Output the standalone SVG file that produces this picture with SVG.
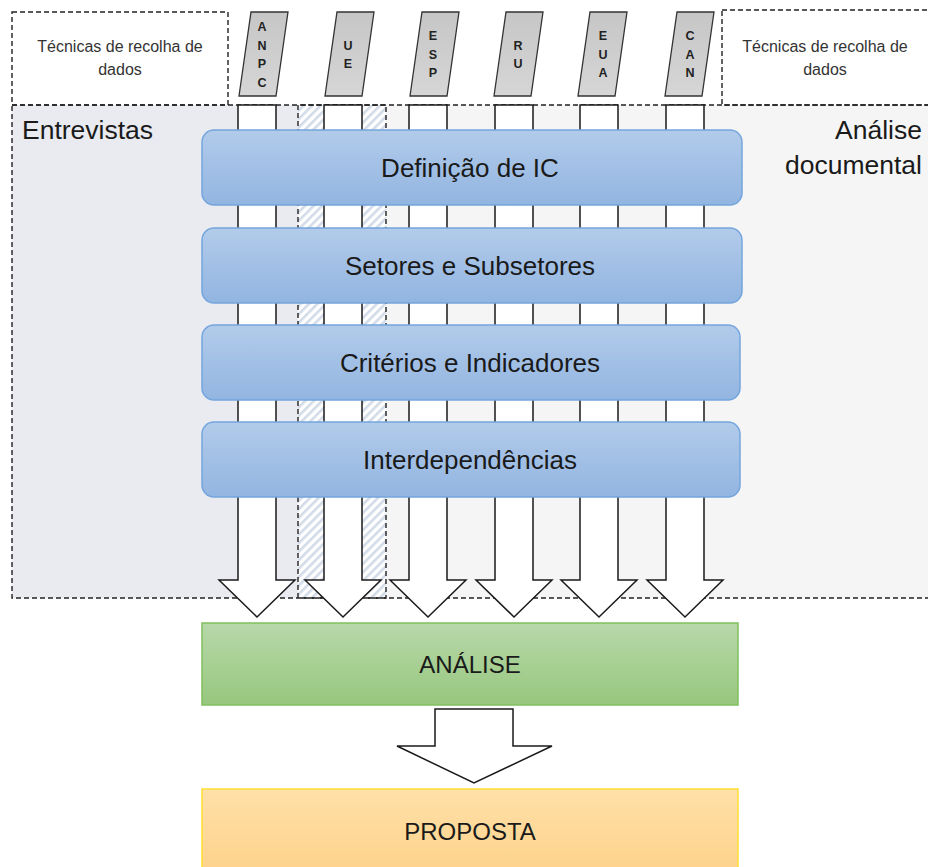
<svg xmlns="http://www.w3.org/2000/svg" width="928" height="867" viewBox="0 0 928 867">
<defs>
<linearGradient id="gBlue" x1="0" y1="0" x2="0" y2="1"><stop offset="0" stop-color="#b2cbea"/><stop offset="1" stop-color="#92b5e1"/></linearGradient>
<linearGradient id="gGreen" x1="0" y1="0" x2="0" y2="1"><stop offset="0" stop-color="#b8d8aa"/><stop offset="1" stop-color="#97c77e"/></linearGradient>
<linearGradient id="gOrange" x1="0" y1="0" x2="0" y2="1"><stop offset="0" stop-color="#ffe0a8"/><stop offset="1" stop-color="#fdd38c"/></linearGradient>
<linearGradient id="gGray" x1="0" y1="0" x2="0" y2="1"><stop offset="0" stop-color="#c6c6c6"/><stop offset="1" stop-color="#d6d6d6"/></linearGradient>
<pattern id="hatch" patternUnits="userSpaceOnUse" width="6" height="6" patternTransform="rotate(45)">
<rect width="6" height="6" fill="#ffffff"/><rect x="0" y="0" width="2.6" height="6" fill="#d2dbe7"/>
</pattern>
</defs>
<style>
.dash{fill:none;stroke:#222;stroke-width:1.4;stroke-dasharray:5 3}
.small{font-family:"Liberation Sans",Arial,sans-serif;font-size:16px;fill:#333;text-anchor:middle}
.big{font-family:"Liberation Sans",Arial,sans-serif;font-size:26.5px;fill:#1a1a1a}
.lbl{font-family:"Liberation Sans",Arial,sans-serif;font-size:26px;fill:#1a1a1a;text-anchor:middle}
.cap{font-family:"Liberation Sans",Arial,sans-serif;font-size:24px;fill:#1a1a1a;text-anchor:middle}
.tab{fill:url(#gGray);stroke:#333;stroke-width:1.3}
.tabt{font-family:"Liberation Sans",Arial,sans-serif;font-size:12.5px;font-weight:bold;fill:#222;text-anchor:middle}
.arr{fill:#fff;stroke:#1a1a1a;stroke-width:1.5;stroke-linejoin:miter}
.blue{fill:url(#gBlue);stroke:#74a5dc;stroke-width:1.5}
</style>
<rect width="928" height="867" fill="#fff"/>

<g id="regions">
<rect x="12" y="105" width="374" height="493" fill="#e9ebf0"/>
<rect x="298" y="105" width="640" height="493" fill="#f5f5f5"/>
<rect x="298" y="105" width="88" height="493" fill="url(#hatch)"/>
</g>

<g id="tecnicas-left">
<rect class="dash" x="12" y="12" width="216" height="93"/>
<text class="small" x="120" y="52">Técnicas de recolha de</text>
<text class="small" x="120" y="75">dados</text>
</g>
<g id="tecnicas-right">
<rect class="dash" x="722" y="10" width="216" height="95"/>
<text class="small" x="825" y="52">Técnicas de recolha de</text>
<text class="small" x="825" y="75">dados</text>
</g>

<g id="entrevistas">
<rect class="dash" x="12" y="105" width="374" height="493"/>
<text class="big" x="22" y="139">Entrevistas</text>
</g>
<g id="analise-documental">
<path class="dash" d="M298,598 V105 H938 M938,598 H298"/>
<text class="big" x="922" y="139" text-anchor="end">Análise</text>
<text class="big" x="922" y="174" text-anchor="end">documental</text>
</g>

<g id="connectors">
<polygon class="arr" points="238,105 276,105 276,580 295,580 257,617 219,580 238,580"/>
<polygon class="arr" points="324,105 362,105 362,580 381,580 343,617 305,580 324,580"/>
<polygon class="arr" points="409,105 447,105 447,580 466,580 428,617 390,580 409,580"/>
<polygon class="arr" points="495,105 533,105 533,580 552,580 514,617 476,580 495,580"/>
<polygon class="arr" points="580,105 618,105 618,580 637,580 599,617 561,580 580,580"/>
<polygon class="arr" points="666,105 704,105 704,580 723,580 685,617 647,580 666,580"/>
<polygon class="arr" points="435,709 513,709 513,746 552,746 474,783 397,746 435,746"/>
</g>

<g id="tab-ANPC"><polygon class="tab" points="239,96 276,96 288,12 251,12"/>
<text class="tabt" x="262" y="31">A</text><text class="tabt" x="262" y="49.5">N</text><text class="tabt" x="262" y="68">P</text><text class="tabt" x="262" y="86.5">C</text></g>
<g id="tab-UE"><polygon class="tab" points="325,96 362,96 374,12 337,12"/>
<text class="tabt" x="348" y="49.5">U</text><text class="tabt" x="348" y="68">E</text></g>
<g id="tab-ESP"><polygon class="tab" points="410,96 447,96 459,12 422,12"/>
<text class="tabt" x="433" y="40">E</text><text class="tabt" x="433" y="58.5">S</text><text class="tabt" x="433" y="77">P</text></g>
<g id="tab-RU"><polygon class="tab" points="494,96 531,96 543,12 506,12"/>
<text class="tabt" x="518" y="49.5">R</text><text class="tabt" x="518" y="68">U</text></g>
<g id="tab-EUA"><polygon class="tab" points="578,96 615,96 627,12 590,12"/>
<text class="tabt" x="603" y="40">E</text><text class="tabt" x="603" y="58.5">U</text><text class="tabt" x="603" y="77">A</text></g>
<g id="tab-CAN"><polygon class="tab" points="665,96 702,96 714,12 677,12"/>
<text class="tabt" x="690" y="40">C</text><text class="tabt" x="690" y="58.5">A</text><text class="tabt" x="690" y="77">N</text></g>

<g id="definicao"><rect class="blue" x="202" y="130" width="540" height="75" rx="12"/>
<text class="lbl" x="470" y="177">Definição de IC</text></g>
<g id="setores"><rect class="blue" x="202" y="228" width="540" height="75" rx="12"/>
<text class="lbl" x="470" y="275">Setores e Subsetores</text></g>
<g id="criterios"><rect class="blue" x="202" y="325" width="538" height="75" rx="12"/>
<text class="lbl" x="470" y="372">Critérios e Indicadores</text></g>
<g id="interdependencias"><rect class="blue" x="202" y="422" width="538" height="75" rx="12"/>
<text class="lbl" x="470" y="469">Interdependências</text></g>

<g id="analise"><rect x="202" y="623" width="536" height="82" fill="url(#gGreen)" stroke="#80c05c" stroke-width="1.5"/>
<text class="cap" x="470" y="673">ANÁLISE</text></g>
<g id="proposta"><rect x="202" y="789" width="536" height="80" fill="url(#gOrange)" stroke="#ffe033" stroke-width="1.5"/>
<text class="cap" x="470" y="840">PROPOSTA</text></g>
</svg>
